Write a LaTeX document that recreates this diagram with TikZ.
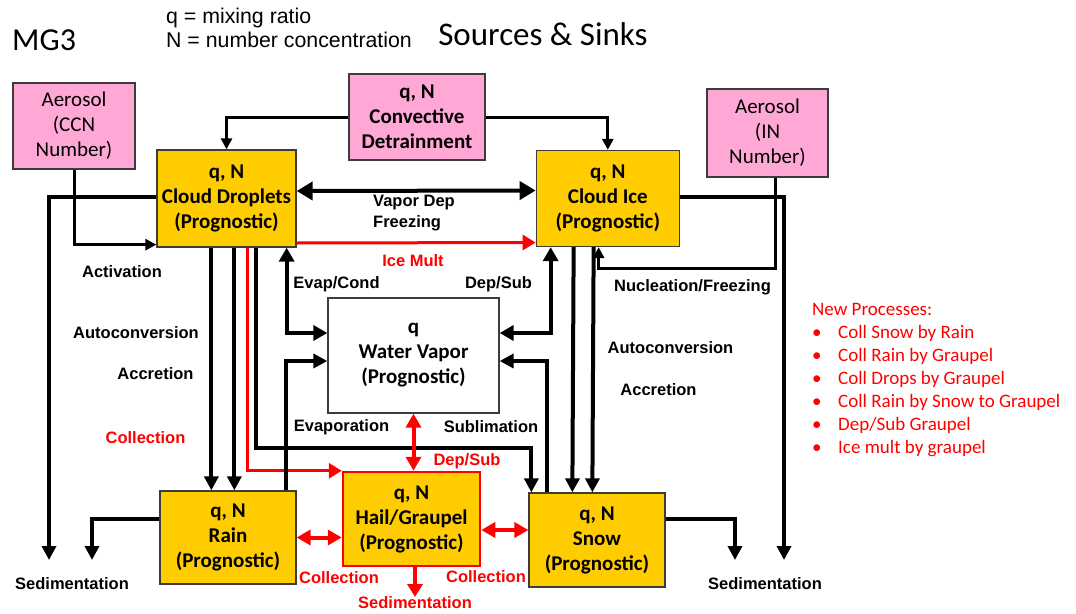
\documentclass[tikz,border=0pt]{standalone}
\usepackage{fontspec}
\setmainfont{Carlito}
\newfontfamily\arialfont{Liberation Sans}
\usepackage{tikz}
\usetikzlibrary{arrows.meta, positioning}

\definecolor{procyellow}{RGB}{255,204,0}
\definecolor{aeropink}{RGB}{255,168,214}
\definecolor{boxgray}{RGB}{60,60,60}

\begin{document}
\begin{tikzpicture}[
    x=1pt, y=-1pt,
    box/.style={rectangle, draw=boxgray, line width=1.3pt, inner sep=0pt, align=center, font=\fontsize{21}{25}\selectfont\bfseries},
    species/.style={box, fill=procyellow},
    source/.style={box, fill=aeropink},
    aerosol/.style={box, fill=aeropink, font=\fontsize{21}{25}\selectfont},
    lbl/.style={inner sep=0pt, font=\arialfont\fontsize{16.5}{20.5}\selectfont\bfseries},
    redlbl/.style={lbl, text=red},
    flow/.style={-{Triangle[length=14pt,width=14pt]}, line width=4pt},
    thinflow/.style={-{Triangle[length=11pt,width=11pt]}, line width=3pt},
    twoway/.style={{Triangle[length=14pt,width=15pt]}-{Triangle[length=14pt,width=15pt]}, line width=4pt},
    redflow/.style={-{Triangle[length=13pt,width=15pt]}, line width=3pt, red},
    redtwoway/.style={twoway, red}
]
\useasboundingbox (0,0) rectangle (1076,613);

% Titles
\node[inner sep=0pt, anchor=west, font=\fontsize{32}{36}\selectfont] (mg) at (12,40) {MG3};
\node[inner sep=0pt, anchor=west, align=left, font=\arialfont\fontsize{21.3}{24}\selectfont] (legend) at (166,28) {q = mixing ratio\\N = number concentration};
\node[inner sep=0pt, font=\fontsize{33}{36}\selectfont] (title) at (543,34) {Sources \& Sinks};

% Sources
\node[aerosol, minimum width=122pt, minimum height=86pt] (ccn) at (74,126) {Aerosol\\(CCN\\Number)};
\node[source, minimum width=136pt, minimum height=86pt] (conv) at (417,117) {q, N\\Convective\\Detrainment};
\node[aerosol, minimum width=121pt, minimum height=88pt] (innum) at (767.5,133) {Aerosol\\(IN\\Number)};

% Hydrometeors
\node[species, minimum width=139pt, minimum height=97pt] (droplets) at (226.5,198.5) {q, N\\Cloud Droplets\\(Prognostic)};
\node[species, minimum width=143pt, minimum height=96pt, right=239pt of droplets] (ice) {q, N\\Cloud Ice\\(Prognostic)};
\node[box, fill=white, minimum width=171pt, minimum height=115pt] (vapor) at (413.5,355.5) {q\\Water Vapor\\(Prognostic)};
\node[species, minimum width=136pt, minimum height=93pt] (rain) at (228,537.5) {q, N\\Rain\\(Prognostic)};
\node[species, draw=red, line width=2.5pt, minimum width=137pt, minimum height=94pt] (hail) at (411.5,519) {q, N\\Hail/Graupel\\(Prognostic)};
\node[species, minimum width=136pt, minimum height=94pt] (snow) at (597,540) {q, N\\Snow\\(Prognostic)};

% Free ends
\coordinate (sedleft) at (49,560);
\coordinate (sedrain) at (92,560);
\coordinate (sedsnow) at (735,560);
\coordinate (sedright) at (784,560);
\coordinate (sedhail) at (415,597);

% Detrainment and activation
\draw[thinflow] (conv.west) -| (droplets.north);
\draw[thinflow] (conv.east) -| (ice.north);
\draw[thinflow] (ccn.south) |- ([yshift=3pt]droplets.south west);
\draw[thinflow] ([xshift=7.5pt]innum.south) -- ++(0,91) -| ([xshift=63pt]ice.south west);

% Sedimentation
\draw[flow] ([yshift=1.5pt]droplets.west) -| (sedleft);
\draw[flow] ([yshift=18.5pt]rain.west) -| (sedrain);
\draw[flow] ([yshift=2pt]ice.east) -| (sedright);
\draw[flow] ([yshift=21pt]snow.east) -| (sedsnow);

% Droplets and ice
\draw[twoway, {Triangle[length=16pt,width=18pt]}-{Triangle[length=16pt,width=18pt]}] ([yshift=7.5pt]droplets.east) -- ([yshift=8pt]ice.west);
\draw[redflow] ([yshift=-44.5pt]droplets.east) -- ([yshift=-44pt]ice.west);

% Autoconversion / accretion
\draw[flow] ([xshift=55pt]droplets.south west) -- ([xshift=52pt]rain.north west);
\draw[flow] ([xshift=78pt]droplets.south west) -- ([xshift=75pt]rain.north west);
\draw[flow] ([xshift=38pt]ice.south west) -- ([xshift=44pt]snow.north west);
\draw[flow] ([xshift=58pt]ice.south west) -- ([xshift=64pt]snow.north west);

% Collection
\draw[redflow] ([xshift=91pt]droplets.south west) |- (hail.north west);
\draw[flow] ([xshift=100pt]droplets.south west) -- ++(0,200) -| ([xshift=3pt]snow.north west);

% Vapor exchange
\draw[twoway] ([xshift=-10pt]droplets.south east) |- ([yshift=22.5pt]vapor.west);
\draw[flow] ([xshift=-11pt]rain.north east) |- ([yshift=-5.5pt]vapor.west);
\draw[twoway] ([xshift=15pt]ice.south west) |- ([yshift=22.5pt]vapor.east);
\draw[flow] ([xshift=19pt]snow.north west) |- ([yshift=-5.5pt]vapor.east);

% Graupel
\draw[redtwoway] (vapor.south) -- (vapor.south |- hail.north);
\draw[redtwoway] (rain.east) -- (rain.east -| hail.west);
\draw[redtwoway] ([yshift=-11pt]hail.east) -- ([yshift=-11pt]hail.east -| snow.west);
\draw[redflow, line width=4pt] (hail.south -| sedhail) -- (sedhail);

% Process labels
\node[lbl] (activation) at (122,272) {Activation};
\node[lbl, anchor=west, align=left] (vapordep) at (373,213) {Vapor Dep\\Freezing};
\node[redlbl] (icemult) at (413,261) {Ice Mult};
\node[lbl] (evapcond) at (336.5,284) {Evap/Cond};
\node[lbl] (depsub) at (498.5,284) {Dep/Sub};
\node[lbl] (evaporation) at (341.5,427) {Evaporation};
\node[lbl] (sublimation) at (491,427) {Sublimation};
\node[redlbl] (depsubred) at (467,461) {Dep/Sub};
\node[lbl] (autoleft) at (136,333) {Autoconversion};
\node[lbl] (accrleft) at (155.5,374) {Accretion};
\node[redlbl] (collleft) at (145.5,438) {Collection};
\node[redlbl] (collrain) at (339,578) {Collection};
\node[redlbl] (collsnow) at (486,577) {Collection};
\node[redlbl] (sedhaillbl) at (415,603) {Sedimentation};
\node[lbl] (sedleftlbl) at (72,584) {Sedimentation};
\node[lbl] (sedrightlbl) at (765,584) {Sedimentation};
\node[lbl] (nucleation) at (692.5,287) {Nucleation/Freezing};
\node[lbl] (autoright) at (670.5,348) {Autoconversion};
\node[lbl] (accrright) at (658.5,390) {Accretion};

% New processes
\node[inner sep=0pt, anchor=north west, align=left, text=red, font=\fontsize{19}{23}\selectfont] (newproc) at (812,303)
  {New Processes:\\
   \makebox[26pt][l]{\textbullet}Coll Snow by Rain\\
   \makebox[26pt][l]{\textbullet}Coll Rain by Graupel\\
   \makebox[26pt][l]{\textbullet}Coll Drops by Graupel\\
   \makebox[26pt][l]{\textbullet}Coll Rain by Snow to Graupel\\
   \makebox[26pt][l]{\textbullet}Dep/Sub Graupel\\
   \makebox[26pt][l]{\textbullet}Ice mult by graupel};

\end{tikzpicture}
\end{document}
